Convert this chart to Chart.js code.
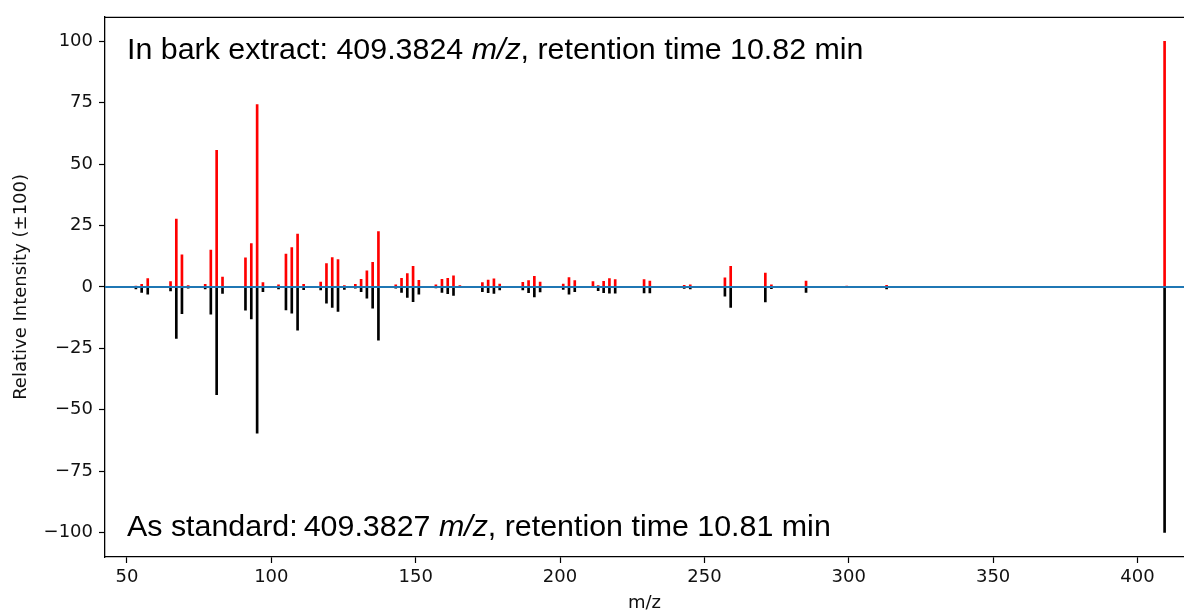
<!DOCTYPE html>
<html>
<head>
<meta charset="utf-8">
<script src="https://cdn.jsdelivr.net/npm/chart.js@4.4.1/dist/chart.umd.min.js"></script>
<style>
  html, body { margin: 0; padding: 0; background: #ffffff; }
  #wrap { width: 1184px; height: 614px; }
</style>
</head>
<body>
<div id="wrap"><canvas id="c" width="1184" height="614"></canvas></div>
<script>
// ---- data (m/z and relative intensities) ----
const mzValues = [53.1, 55.1, 57.2, 65.1, 67.1, 69.05, 71.2, 77.1, 79.05, 81.07, 83.1,
  91.05, 93.07, 95.09, 97.1, 102.5, 105.07, 107.09, 109.1, 111.2,
  117.1, 119.1, 121.1, 123.1, 125.3, 129.1, 131.1, 133.1, 135.1, 137.1,
  143.1, 145.1, 147.1, 149.1, 151.1, 157.0, 159.1, 161.1, 163.1, 165.3,
  173.1, 175.1, 177.1, 179.1, 187.1, 189.1, 191.1, 193.1,
  201.1, 203.1, 205.1, 211.4, 213.2, 215.1, 217.1, 219.1, 229.1, 231.1,
  243.0, 245.1, 257.1, 259.1, 271.1, 273.2, 285.2, 299.3, 313.1, 325.3, 339.3, 409.38];
const barkIntensity = [0.3, 1.0, 3.4, 2.2, 27.6, 13.1, 0.5, 1.0, 15.0, 55.6, 4.0,
  11.8, 17.6, 74.3, 1.8, 0.8, 13.4, 16.0, 21.5, 1.0,
  2.0, 9.5, 11.9, 11.1, 0.5, 1.0, 3.1, 6.5, 10.0, 22.5,
  0.8, 3.5, 5.4, 8.4, 2.7, 0.8, 3.1, 3.5, 4.5, 0.5,
  1.8, 2.8, 3.3, 1.1, 1.9, 2.6, 4.3, 2.0,
  1.1, 3.8, 2.6, 2.2, 0.5, 2.3, 3.4, 3.0, 3.0, 2.4,
  0.6, 0.8, 3.7, 8.4, 5.6, 0.8, 2.4, 0.3, 0.6, 0.2, 0.2, 100];
const standardIntensity = [-0.8, -2.2, -3.0, -1.6, -21.0, -10.9, -0.5, -0.8, -11.1, -43.9, -2.7,
  -9.5, -13.0, -59.6, -1.9, -0.8, -9.4, -10.7, -17.6, -1.1,
  -1.2, -6.6, -8.4, -10.0, -1.0, -0.5, -1.9, -4.6, -8.7, -21.7,
  -0.5, -2.2, -4.3, -6.0, -3.0, -0.4, -2.2, -2.8, -3.5, -0.3,
  -1.9, -2.3, -2.7, -1.2, -1.2, -2.3, -4.1, -2.0,
  -1.0, -3.0, -1.9, -0.3, -1.5, -2.3, -2.6, -2.6, -2.5, -2.5,
  -0.6, -0.8, -3.8, -8.4, -6.1, -0.7, -2.2, -0.3, -0.8, -0.2, -0.2, -100];
const xTickValues = [50, 100, 150, 200, 250, 300, 350, 400];
const yTickValues = [-100, -75, -50, -25, 0, 25, 50, 75, 100];
const X_MIN = 42.4, X_MAX = 416.1, Y_MIN = -110, Y_MAX = 110;
const topLabel = ['In bark extract: 409.3824 ', 'm/z', ', retention time 10.82 min'];
const bottomLabel = ['As standard:\u2009409.3827 ', 'm/z', ', retention time 10.81 min'];

const redData = mzValues.map((m, i) => ({ x: m, y: barkIntensity[i] }));
const blackData = mzValues.map((m, i) => ({ x: m, y: standardIntensity[i] }));
const zeroLine = [{ x: X_MIN, y: 0 }, { x: X_MAX, y: 0 }];

const frameAndText = {
  id: 'frameAndText',
  afterDraw(chart) {
    const { ctx, chartArea: a } = chart;
    ctx.save();
    ctx.strokeStyle = '#000';
    ctx.lineWidth = 1.3;
    ctx.beginPath();
    ctx.moveTo(a.left, a.top + 0.5);
    ctx.lineTo(a.right, a.top + 0.5);
    ctx.stroke();
    const drawParts = (parts, y) => {
      let x = a.left + 22;
      ctx.textBaseline = 'middle';
      ctx.fillStyle = '#000';
      parts.forEach((p, i) => {
        ctx.font = (i === 1 ? 'italic ' : '') + '30.4px "Liberation Sans", Arial, sans-serif';
        ctx.fillText(p, x, y);
        x += ctx.measureText(p).width;
      });
    };
    drawParts(topLabel, a.top + 34);
    drawParts(bottomLabel, a.bottom - 29);
    ctx.restore();
  }
};

const tickFont = { family: '"DejaVu Sans", sans-serif', size: 18 };
const titleFont = { family: '"DejaVu Sans", sans-serif', size: 18 };

new Chart(document.getElementById('c'), {
  type: 'bar',
  data: {
    datasets: [
      { type: 'line', data: zeroLine, borderColor: '#1f77b4', borderWidth: 2, pointRadius: 0, order: 0 },
      { data: redData, backgroundColor: '#ff0000', barThickness: 2, grouped: false, order: 1 },
      { data: blackData, backgroundColor: '#000000', barThickness: 2, grouped: false, order: 2 }
    ]
  },
  options: {
    responsive: false,
    animation: false,
    layout: { padding: { top: 14, right: 0, left: 0, bottom: 0 } },
    plugins: { legend: { display: false }, tooltip: { enabled: false } },
    scales: {
      x: {
        type: 'linear', min: X_MIN, max: X_MAX, offset: false,
        afterFit: s => { s.height = 57; },
        afterBuildTicks: s => { s.ticks = xTickValues.map(v => ({ value: v })); },
        grid: { offset: false, drawOnChartArea: false, drawTicks: true, tickLength: 6, tickColor: '#000', tickWidth: 1.2 },
        border: { display: true, color: '#000', width: 1.3 },
        ticks: { font: tickFont, color: '#111', padding: 4, maxRotation: 0, autoSkip: false },
        title: { display: true, text: 'm/z', font: titleFont, color: '#111', padding: { top: 0, bottom: 0 } }
      },
      y: {
        min: Y_MIN, max: Y_MAX,
        afterFit: s => { s.width = 105; },
        afterBuildTicks: s => { s.ticks = yTickValues.map(v => ({ value: v })); },
        grid: { drawOnChartArea: false, drawTicks: true, tickLength: 6, tickColor: '#000', tickWidth: 1.2 },
        border: { display: true, color: '#000', width: 1.3 },
        ticks: { font: tickFont, color: '#111', padding: 6, callback: v => String(v).replace('-', '\u2212') },
        title: { display: true, text: 'Relative Intensity (\u00b1100)', font: titleFont, color: '#111', padding: { top: 11, bottom: 0 } }
      }
    }
  },
  plugins: [frameAndText]
});
</script>
</body>
</html>
